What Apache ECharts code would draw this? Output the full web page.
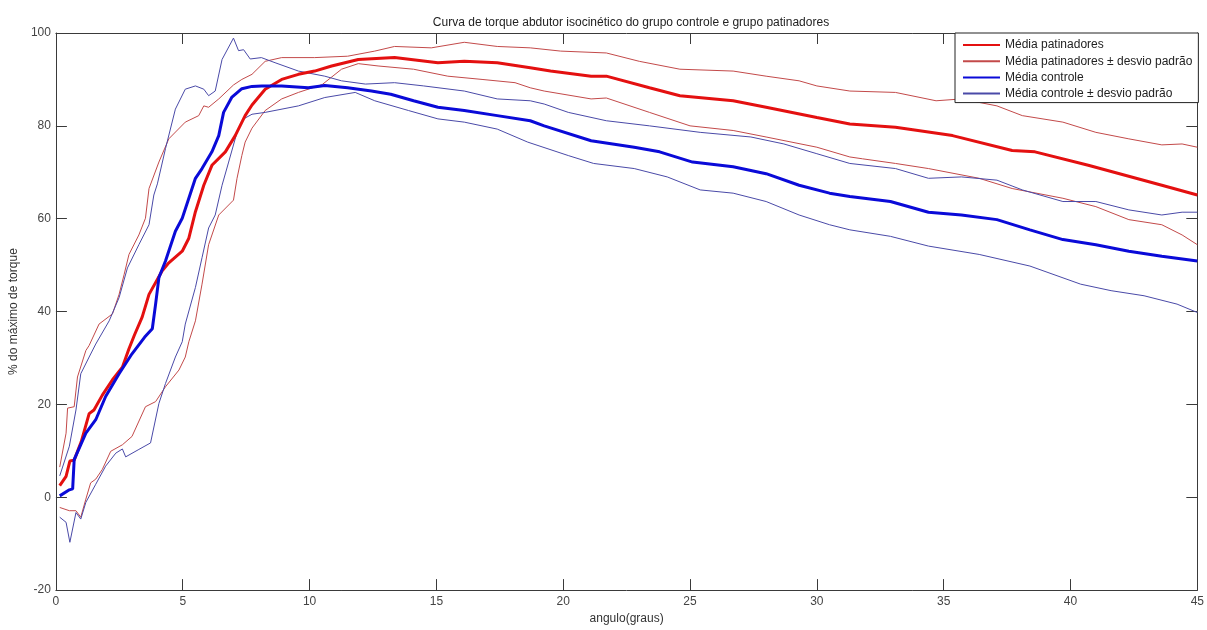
<!DOCTYPE html>
<html>
<head>
<meta charset="utf-8">
<script src="https://cdn.jsdelivr.net/npm/echarts@6/dist/echarts.min.js"></script>
<style>
html,body{margin:0;padding:0;background:#fff;}
#chart{width:1207px;height:630px;}
</style>
</head>
<body>
<div id="chart"></div>
<script>
// ---- Data ----
const titleText = "Curva de torque abdutor isocinético do grupo controle e grupo patinadores";
const xName = "angulo(graus)";
const yName = "% do máximo de torque";
const seriesNames = ["Média patinadores", "Média patinadores ± desvio padrão", "Média controle", "Média controle ± desvio padrão"];

// Média patinadores
const xPatMean = [0.15,0.4,0.55,0.72,1.0,1.31,1.5,1.83,2.23,2.62,2.88,3.1,3.4,3.67,4.19,4.45,4.98,5.24,5.5,5.83,6.15,6.68,7.07,7.46,7.73,8.25,8.9,9.56,10.2,10.87,11.92,13.35,15.06,16.1,17.4,18.7,19.5,21.1,21.7,23.4,24.6,26.7,28.0,30.0,31.3,33.1,35.35,37.7,38.6,40.7,43.6,45];
const yPatMean = [2.5,4.5,7.8,8.0,12.0,18.0,18.8,22.0,25.3,28.0,32.0,35.0,38.8,43.7,48.8,50.5,53.0,55.8,61.5,67.2,71.5,74.4,77.9,82.2,84.5,87.9,90.0,91.1,91.8,92.9,94.3,94.7,93.6,93.9,93.6,92.5,91.8,90.7,90.7,88.2,86.5,85.4,84.0,81.8,80.4,79.7,77.9,74.7,74.4,71.5,67.2,65.1];

// Média patinadores + desvio padrão
const xPatUp = [0.15,0.4,0.46,0.72,0.85,1.18,1.31,1.7,2.23,2.49,2.69,2.88,3.27,3.53,3.67,4.06,4.45,5.1,5.63,5.83,6.02,6.42,7.0,7.33,7.73,8.25,8.9,10.2,11.5,12.57,13.35,14.8,16.1,17.4,18.7,19.9,21.7,23.0,24.6,26.7,28.0,29.3,30.0,31.3,33.1,34.7,35.7,37.1,38.1,39.7,41.0,42.3,43.6,44.4,45];
const yPatUp = [6.5,13.8,19.2,19.5,25.9,31.6,32.7,37.3,39.5,43.7,48.0,52.3,56.5,60.1,66.5,72.2,77.2,80.8,82.2,84.3,84.0,85.8,88.8,90.0,91.1,93.9,94.7,94.7,95.0,96.1,97.1,96.8,98.0,97.1,96.8,96.1,95.7,93.9,92.2,91.8,90.7,89.7,88.6,87.5,87.2,85.4,85.8,84.3,82.2,80.8,78.6,77.2,75.9,76.1,75.4];

// Média patinadores - desvio padrão
const xPatLow = [0.15,0.53,0.79,0.98,1.18,1.37,1.57,1.83,2.16,2.62,3.0,3.53,3.93,4.32,4.85,5.1,5.24,5.5,5.76,6.02,6.42,7.0,7.14,7.33,7.46,7.73,8.25,8.9,9.56,10.5,11.26,11.92,12.7,14.1,15.45,16.8,18.1,18.7,19.25,21.1,21.7,23.4,25.0,26.7,28.0,30.0,31.3,31.8,33.1,34.4,36.4,37.7,39.7,41.0,42.3,43.6,44.4,45];
const yPatLow = [-2.2,-2.9,-2.9,-4.3,-0.4,3.1,3.9,6.0,9.9,11.3,13.1,19.5,20.6,23.8,27.4,30.2,33.5,38.0,45.9,54.4,60.8,64.0,68.7,73.6,76.5,79.5,83.3,85.8,87.2,88.9,92.2,93.4,92.9,92.2,90.7,90.0,89.3,88.2,87.5,85.8,86.0,82.9,80.0,79.0,77.6,75.4,73.3,72.9,71.9,70.8,68.7,66.5,64.4,62.6,59.8,58.7,56.5,54.4];

// Média controle
const xCtlMean = [0.15,0.53,0.66,0.72,1.18,1.57,1.96,2.49,3.0,3.5,3.8,3.93,4.06,4.32,4.71,4.98,5.24,5.5,5.76,6.15,6.42,6.61,6.94,7.33,7.73,8.12,8.9,9.95,10.6,11.5,12.44,13.2,14.1,15.06,16.1,17.4,18.7,19.25,21.1,22.8,23.8,25.1,26.7,28.0,29.3,30.5,31.3,32.9,34.4,35.7,37.1,38.4,39.7,41.0,42.3,43.6,45];
const yCtlMean = [0.3,1.6,1.8,8.1,13.8,16.7,21.7,26.6,30.9,34.5,36.3,41.6,47.3,50.9,57.3,60.1,64.4,68.7,70.8,74.4,77.9,82.9,86.2,88.0,88.5,88.6,88.6,88.2,88.7,88.2,87.5,86.8,85.4,84.0,83.3,82.2,81.1,80.0,76.8,75.4,74.4,72.2,71.2,69.7,67.2,65.5,64.8,63.7,61.4,60.8,59.8,57.6,55.5,54.4,53.0,51.9,50.9];

// Média controle + desvio padrão
const xCtlUp = [0.15,0.53,0.79,0.98,1.31,1.57,2.1,2.49,2.82,3.27,3.67,3.86,4.0,4.32,4.71,5.1,5.5,5.83,6.02,6.28,6.55,7.0,7.2,7.4,7.66,8.1,8.64,9.56,10.6,11.26,12.2,13.35,14.5,16.1,17.4,18.7,19.25,20.2,21.7,23.4,25.4,27.4,28.7,30.0,31.3,33.1,34.4,35.7,37.1,38.1,39.7,41.0,42.3,43.6,44.4,45];
const yCtlUp = [4.6,11.0,18.8,26.6,30.2,33.0,38.0,43.0,49.4,54.4,58.7,65.1,67.5,75.1,83.6,87.9,88.6,87.9,86.5,87.5,94.3,98.9,96.2,96.4,94.4,94.7,93.6,91.8,90.7,89.7,89.0,89.3,88.6,87.5,85.8,85.4,84.7,82.9,81.1,80.0,78.6,77.6,76.1,74.0,71.9,70.8,68.7,69.0,68.3,66.2,63.7,63.7,61.9,60.8,61.4,61.4];

// Média controle - desvio padrão
const xCtlLow = [0.15,0.4,0.55,0.79,0.98,1.18,1.57,1.96,2.36,2.62,2.75,3.27,3.73,4.06,4.32,4.71,4.98,5.1,5.5,5.76,6.02,6.28,6.55,6.81,7.14,7.4,7.73,8.25,9.56,10.6,11.8,12.57,13.9,15.06,16.1,17.4,18.6,20.2,21.2,22.8,24.1,25.4,26.7,28.0,29.3,30.5,31.3,32.9,34.4,36.4,38.4,40.4,41.6,42.9,44.2,45];
const yCtlLow = [-4.3,-5.4,-9.7,-3.3,-4.7,-1.1,2.8,6.7,9.5,10.4,8.7,10.3,11.7,20.2,24.5,30.2,33.5,37.3,45.2,51.6,58.0,60.8,67.2,72.2,78.6,81.5,82.5,82.9,84.3,86.1,87.2,85.4,83.3,81.5,80.8,79.3,76.5,73.6,71.9,70.8,69.0,66.2,65.5,63.7,60.8,58.7,57.6,56.2,54.1,52.3,49.8,45.9,44.5,43.4,41.6,39.8];

const xMin = 0, xMax = 45, xStep = 5;
const yMin = -20, yMax = 100, yStep = 20;

// ---- Chart ----
const pair = (xs, ys) => xs.map((x, i) => [x, ys[i]]);
const FONT = "'Liberation Sans', Arial, sans-serif";
const AX = '#3a3a3a';
const LBL = '#444';

const redMean = '#e41010', redSd = '#c34a4a';
const blueMean = '#0a0ad8', blueSd = '#4a4aa8';

function lineSeries(name, data, color, width, z) {
  return {
    name, type: 'line', data, xAxisIndex: 0, yAxisIndex: 0,
    symbol: 'none', showSymbol: false, smooth: false, z,
    lineStyle: { color, width }, itemStyle: { color },
    emphasis: { disabled: true }, animation: false
  };
}

function axisCommon(extra) {
  return Object.assign({
    axisLine: { show: true, onZero: false, lineStyle: { color: AX, width: 1 } },
    axisTick: { show: true, inside: true, length: 11, lineStyle: { color: AX } },
    splitLine: { show: false }
  }, extra);
}

const chart = echarts.init(document.getElementById('chart'), null, { renderer: 'canvas' });
chart.setOption({
  backgroundColor: '#fff',
  animation: false,
  title: {
    text: titleText, left: 626, textAlign: 'center', top: 12,
    textStyle: { fontFamily: FONT, fontSize: 12, fontWeight: 'normal', color: '#222' }
  },
  legend: {
    orient: 'vertical', left: 955, top: 33,
    data: seriesNames,
    backgroundColor: '#fff', borderColor: '#222', borderWidth: 1, borderRadius: 0,
    padding: [6, 6, 3, 7],
    itemWidth: 37, itemHeight: 12, itemGap: 4.2, itemTextGap: 5,
    itemStyle: { opacity: 0, borderWidth: 0 },
    textStyle: { fontFamily: FONT, fontSize: 12, color: '#222' },
    selectedMode: false, z: 10
  },
  grid: { left: 53, right: 8, top: 33, bottom: 35, containLabel: false },
  xAxis: [
    axisCommon({
      type: 'value', min: xMin, max: xMax, interval: xStep, position: 'bottom',
      name: xName, nameLocation: 'middle', nameGap: 19,
      nameTextStyle: { fontFamily: FONT, fontSize: 12, color: '#333' },
      axisLabel: { fontFamily: FONT, fontSize: 12, color: LBL, margin: 6 }
    }),
    axisCommon({
      type: 'value', min: xMin, max: xMax, interval: xStep, position: 'top',
      axisLabel: { show: false }
    })
  ],
  yAxis: [
    axisCommon({
      type: 'value', min: yMin, max: yMax, interval: yStep, position: 'left',
      name: yName, nameLocation: 'middle', nameGap: 32, nameRotate: 90,
      nameTextStyle: { fontFamily: FONT, fontSize: 12, color: '#333' },
      axisLabel: { fontFamily: FONT, fontSize: 12, color: LBL, margin: 5 }
    }),
    axisCommon({
      type: 'value', min: yMin, max: yMax, interval: yStep, position: 'right',
      axisLabel: { show: false }
    })
  ],
  series: [
    lineSeries(seriesNames[1], pair(xPatUp, yPatUp), redSd, 1, 2),
    lineSeries(seriesNames[1], pair(xPatLow, yPatLow), redSd, 1, 2),
    lineSeries(seriesNames[3], pair(xCtlUp, yCtlUp), blueSd, 1, 2),
    lineSeries(seriesNames[3], pair(xCtlLow, yCtlLow), blueSd, 1, 2),
    lineSeries(seriesNames[0], pair(xPatMean, yPatMean), redMean, 3, 3),
    lineSeries(seriesNames[2], pair(xCtlMean, yCtlMean), blueMean, 3, 3)
  ]
});
</script>
</body>
</html>
